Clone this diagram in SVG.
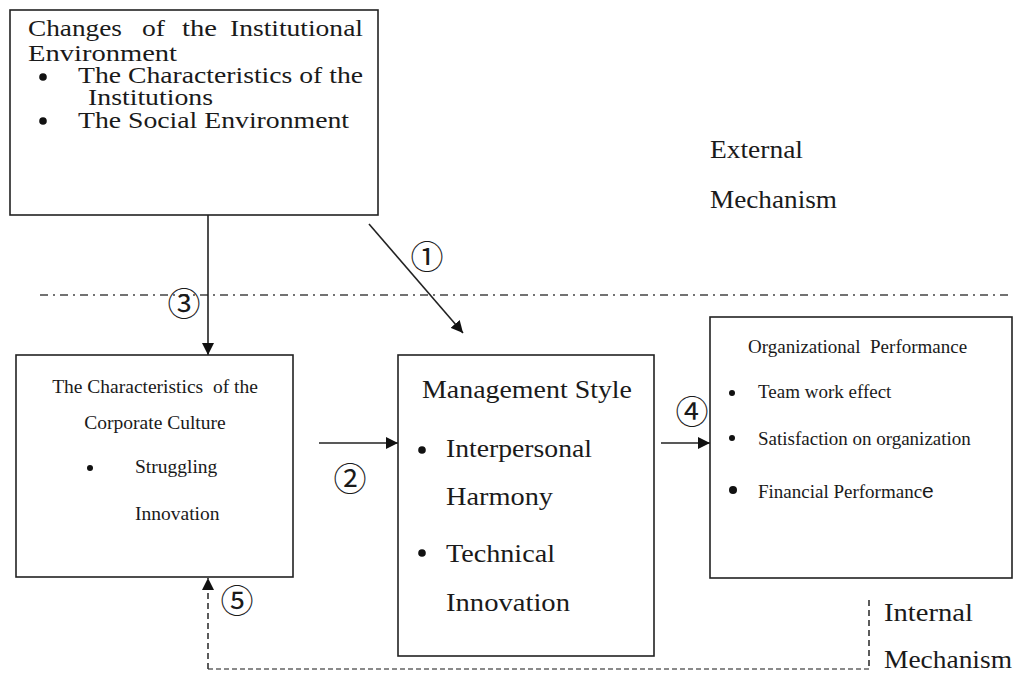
<svg xmlns="http://www.w3.org/2000/svg" width="1018" height="674" viewBox="0 0 1018 674">
  <style>
    .box { fill: #ffffff; stroke: #222222; stroke-width: 1.6; }
    .t { font-family: "Liberation Serif", "Times New Roman", serif; fill: #1a1a1a; }
    .num { font-family: "Noto Sans CJK SC", "DejaVu Sans", sans-serif; fill: #1a1a1a; font-size: 33px; text-anchor: middle; dominant-baseline: central; }
    .dot { fill: #111111; }
    .arrow { stroke: #222222; stroke-width: 1.6; fill: none; }
    .sep { stroke: #444444; stroke-width: 1.6; stroke-dasharray: 8 5 2 5; fill: none; }
    .ret { stroke: #333333; stroke-width: 1.6; stroke-dasharray: 6 4; fill: none; }
    .retb { stroke: #8a8a8a; stroke-width: 2.2; stroke-dasharray: 5 3; fill: none; }
  </style>
  <defs>
    <marker id="head" markerUnits="userSpaceOnUse" markerWidth="13" markerHeight="12" refX="12" refY="6" orient="auto">
      <path d="M0,0 L12,6 L0,12 z" fill="#111111"/>
    </marker>
  </defs>

  <rect width="1018" height="674" fill="#ffffff"/>

  <!-- boundary between external and internal mechanisms -->
  <line class="sep" x1="40" y1="295" x2="1008" y2="295"/>

  <!-- connectors -->
  <g id="connectors">
    <line class="arrow" x1="208" y1="215" x2="208" y2="355" marker-end="url(#head)"/>
    <line class="arrow" x1="369" y1="224" x2="463" y2="333" marker-end="url(#head)"/>
    <line class="arrow" x1="319" y1="443" x2="398" y2="443" marker-end="url(#head)"/>
    <line class="arrow" x1="661" y1="443" x2="710" y2="443" marker-end="url(#head)"/>
    <line class="ret" x1="869" y1="600" x2="869" y2="669"/>
    <line class="retb" x1="869" y1="669" x2="208" y2="669"/>
    <line class="ret" x1="208" y1="669" x2="208" y2="578" marker-end="url(#head)"/>
    <text class="num" x="427" y="255">①</text>
    <text class="num" x="350" y="477">②</text>
    <text class="num" x="184" y="302">③</text>
    <text class="num" x="692" y="410">④</text>
    <text class="num" x="237" y="599">⑤</text>
  </g>

  <!-- institutional environment -->
  <g id="institutional-environment">
    <rect class="box" x="10" y="10" width="368" height="205"/>
    <text class="t" font-size="24" x="28" y="36" textLength="94" lengthAdjust="spacingAndGlyphs">Changes</text>
    <text class="t" font-size="24" x="142" y="36" textLength="23" lengthAdjust="spacingAndGlyphs">of</text>
    <text class="t" font-size="24" x="182" y="36" textLength="35" lengthAdjust="spacingAndGlyphs">the</text>
    <text class="t" font-size="24" x="230" y="36" textLength="133" lengthAdjust="spacingAndGlyphs">Institutional</text>
    <text class="t" font-size="24" x="28" y="61" textLength="149" lengthAdjust="spacingAndGlyphs">Environment</text>
    <circle class="dot" cx="43" cy="77" r="3.8"/>
    <text class="t" font-size="24" x="78" y="83" textLength="285" lengthAdjust="spacingAndGlyphs">The Characteristics of the</text>
    <text class="t" font-size="24" x="88" y="105" textLength="125" lengthAdjust="spacingAndGlyphs">Institutions</text>
    <circle class="dot" cx="43" cy="121" r="3.8"/>
    <text class="t" font-size="24" x="78" y="128" textLength="271" lengthAdjust="spacingAndGlyphs">The Social Environment</text>
  </g>

  <!-- external mechanism label -->
  <g id="external-label">
    <text class="t" font-size="25" x="710" y="158" textLength="93" lengthAdjust="spacingAndGlyphs">External</text>
    <text class="t" font-size="25" x="710" y="208" textLength="127" lengthAdjust="spacingAndGlyphs">Mechanism</text>
  </g>

  <!-- corporate culture -->
  <g id="corporate-culture">
    <rect class="box" x="16" y="355" width="277" height="222"/>
    <text class="t" font-size="19.5" x="155" y="393" text-anchor="middle" xml:space="preserve">The Characteristics  of the</text>
    <text class="t" font-size="19.5" x="155" y="429" text-anchor="middle">Corporate Culture</text>
    <circle class="dot" cx="90" cy="468" r="3"/>
    <text class="t" font-size="19.5" x="135" y="473">Struggling</text>
    <text class="t" font-size="19.5" x="135" y="520">Innovation</text>
  </g>

  <!-- management style -->
  <g id="management-style">
    <rect class="box" x="398" y="355" width="256" height="301"/>
    <text class="t" font-size="26" x="422" y="398" textLength="210" lengthAdjust="spacingAndGlyphs">Management Style</text>
    <circle class="dot" cx="422" cy="450" r="3.8"/>
    <text class="t" font-size="26" x="446" y="457" textLength="146" lengthAdjust="spacingAndGlyphs">Interpersonal</text>
    <text class="t" font-size="26" x="446" y="505" textLength="107" lengthAdjust="spacingAndGlyphs">Harmony</text>
    <circle class="dot" cx="422" cy="553" r="3.8"/>
    <text class="t" font-size="26" x="446" y="562" textLength="109" lengthAdjust="spacingAndGlyphs">Technical</text>
    <text class="t" font-size="26" x="446" y="611" textLength="124" lengthAdjust="spacingAndGlyphs">Innovation</text>
  </g>

  <!-- organizational performance -->
  <g id="organizational-performance">
    <rect class="box" x="710" y="317" width="302" height="261"/>
    <text class="t" font-size="19" x="748" y="353" xml:space="preserve">Organizational  Performance</text>
    <circle class="dot" cx="732" cy="393" r="3"/>
    <text class="t" font-size="19" x="758" y="398">Team work effect</text>
    <circle class="dot" cx="732" cy="438" r="3"/>
    <text class="t" font-size="19" x="758" y="445">Satisfaction on organization</text>
    <circle class="dot" cx="733" cy="490" r="4"/>
    <text class="t" font-size="19" x="758" y="498">Financial Performanc<tspan font-family="Liberation Sans, Arial, sans-serif" font-size="21">e</tspan></text>
  </g>

  <!-- internal mechanism label -->
  <g id="internal-label">
    <text class="t" font-size="26" x="884" y="621" textLength="89" lengthAdjust="spacingAndGlyphs">Internal</text>
    <text class="t" font-size="26" x="884" y="668" textLength="128" lengthAdjust="spacingAndGlyphs">Mechanism</text>
  </g>
</svg>
